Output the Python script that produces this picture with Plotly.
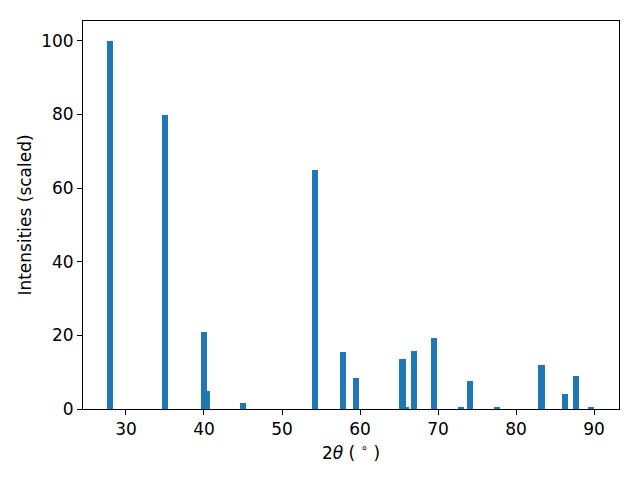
import plotly.graph_objects as go

two_theta = [27.92, 35.04, 39.97, 40.33, 45.0, 54.23, 57.82, 59.49, 65.45, 65.87,
             66.92, 69.49, 72.95, 74.1, 77.56, 83.27, 86.28, 87.69, 89.6]
intensity = [100, 80.0, 20.9, 4.9, 1.6, 64.8, 15.5, 8.4, 13.6, 0.3,
             15.8, 19.3, 0.3, 7.6, 0.5, 12.0, 4.1, 9.0, 0.3]
x_ticks = [30, 40, 50, 60, 70, 80, 90]
y_ticks = [0, 20, 40, 60, 80, 100]

fig = go.Figure(go.Bar(x=two_theta, y=intensity, width=0.8,
                       marker=dict(color="#1f77b4", line=dict(width=0))))

font = dict(family="DejaVu Sans", size=17, color="black")
fig.update_layout(
    width=640, height=480,
    margin=dict(l=83, r=21, t=21, b=71),
    plot_bgcolor="white", paper_bgcolor="white",
    showlegend=False, bargap=0,
    font=font,
)
fig.update_xaxes(range=[24.49, 93.2], tickvals=x_ticks, ticks="outside", ticklen=5,
                 tickwidth=1, tickcolor="black", showline=True, linecolor="black",
                 linewidth=1, mirror=True, showgrid=False, zeroline=False,
                 tickfont=dict(size=17),
                 title=dict(text="2<i>θ</i> ( <sup>∘</sup> )", font=dict(size=17), standoff=8))
fig.update_yaxes(range=[0, 105.4], tickvals=y_ticks, ticks="outside", ticklen=5,
                 tickwidth=1, tickcolor="black", showline=True, linecolor="black",
                 linewidth=1, mirror=True, showgrid=False, zeroline=False,
                 tickfont=dict(size=17),
                 title=dict(text="Intensities (scaled)", font=dict(size=17), standoff=5))

fig.write_html("out.html", config={"displayModeBar": False},
               post_script="document.body.style.margin='0px';document.body.style.padding='0px';")
